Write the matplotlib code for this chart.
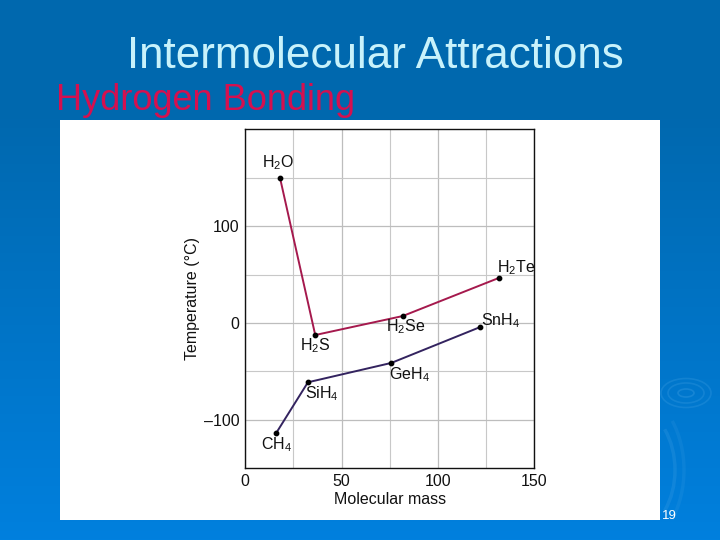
import numpy as np
import matplotlib
matplotlib.use("Agg")
import matplotlib.pyplot as plt
from matplotlib.patches import Arc, Ellipse, Rectangle

plt.rcParams['font.family'] = ['Liberation Sans', 'DejaVu Sans']
plt.rcParams['mathtext.default'] = 'regular'

h_mass = [18, 36.3, 81.7, 131.8]
h_temp = [150, -12.4, 7.2, 46.7]
h_names = ['H$_2$O', 'H$_2$S', 'H$_2$Se', 'H$_2$Te']

c_mass = [16.1, 32.5, 75.8, 122]
c_temp = [-113.4, -61.2, -41.2, -4.1]
c_names = ['CH$_4$', 'SiH$_4$', 'GeH$_4$', 'SnH$_4$']

fig = plt.figure(figsize=(7.2, 5.4), dpi=100)

# slide background, in pixel coords
bg = fig.add_axes([0, 0, 1, 1])
bg.set_xlim(0, 720)
bg.set_ylim(540, 0)
bg.axis('off')
top = np.array([0, 104, 174]) / 255
bottom = np.array([0, 128, 222]) / 255
t = np.concatenate([np.zeros(110), np.linspace(0, 1, 430)])[:, None, None]
bg.imshow(top + (bottom - top) * t, extent=[0, 720, 540, 0], aspect='auto', zorder=0)

# ripples
for w, h, a in [(16, 8, 0.3), (36, 20, 0.25), (50, 29, 0.25)]:
    bg.add_patch(Ellipse((686, 393), w, h, fill=False, ec='#4aa6e6', lw=1.2, alpha=a, zorder=1))
for w, h, a in [(94, 130, 0.22), (112, 160, 0.15)]:
    bg.add_patch(Arc((628, 470), w, h, theta1=-48, theta2=48, ec='#4aa6e6', lw=2.5, alpha=a, zorder=1))

bg.add_patch(Rectangle((60, 120), 600, 400, fc='white', ec='none', zorder=2))

bg.text(375, 57, 'Intermolecular Attractions', color='#c8f2fb', fontsize=31.7,
        ha='center', va='center', zorder=3)
bg.text(56, 100, 'Hydrogen Bonding', color='#d5104f', fontsize=26,
        ha='left', va='center', zorder=3)
bg.text(662, 516, '19', color='white', fontsize=9.5, ha='left', va='center', zorder=3)

# chart
ax = fig.add_axes([245.3 / 720, 1 - 468.3 / 540, 289 / 720, 339 / 540])
ax.set_xlim(0, 150)
ax.set_ylim(-150, 200)
ax.set_xticks([0, 50, 100, 150])
ax.set_yticks([-100, 0, 100])
ax.set_yticklabels(['\u2013100', '0', '100'])
ax.set_xticks([25, 75, 125], minor=True)
ax.set_yticks([-50, 50, 150], minor=True)
ax.grid(True, which='major', color='#bdbdbd', lw=0.9)
ax.grid(True, which='minor', color='#c8c8c8', lw=0.8)
ax.tick_params(which='both', length=0)
ax.tick_params(labelsize=11.5, pad=4, colors='#111111')
for s in ax.spines.values():
    s.set_linewidth(1.0)
    s.set_color('#111111')
ax.set_axisbelow(True)

ax.plot(h_mass, h_temp, color='#a5194d', lw=1.4, zorder=3)
ax.plot(c_mass, c_temp, color='#33235f', lw=1.4, zorder=3)
ax.scatter(h_mass + c_mass, h_temp + c_temp, s=10, color='black', zorder=4)

# label offsets in pixels from each point
h_off = [(-2, 15), (0, -11), (3, -11), (17, 10)]
c_off = [(0, -12), (14, -11), (18, -12), (20, 6)]
for x, y, name, off in zip(h_mass, h_temp, h_names, h_off):
    ax.annotate(name, (x, y), xytext=off, textcoords='offset pixels', ha='center',
                va='center', fontsize=11.5, color='#111111', zorder=5)
for x, y, name, off in zip(c_mass, c_temp, c_names, c_off):
    ax.annotate(name, (x, y), xytext=off, textcoords='offset pixels', ha='center',
                va='center', fontsize=11.5, color='#111111', zorder=5)

ax.set_xlabel('Molecular mass', fontsize=11.5, labelpad=2, color='#111111')
ax.set_ylabel('Temperature (\u00b0C)', fontsize=11.5, labelpad=3, color='#111111')

fig.savefig('out.png', dpi=100)
